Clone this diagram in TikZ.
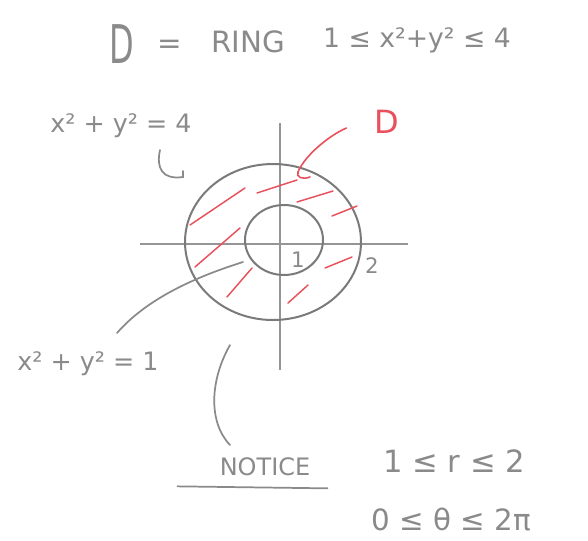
\documentclass[tikz,border=0pt]{standalone}
\usepackage{fontspec}
\setmainfont{DejaVu Sans}
\usetikzlibrary{shapes.geometric}
\definecolor{pen}{HTML}{8A8A8A}
\definecolor{ink}{HTML}{7A7A7A}
\definecolor{redpen}{HTML}{E8505C}
\tikzset{
  lbl/.style={text=pen, inner sep=0pt, font=\fontsize{#1}{#1}\selectfont},
  lbl/.default=20,
  circ/.style={ellipse, draw=ink, line width=1.5pt, inner sep=0pt},
  axis/.style={draw=ink!80, line width=1pt},
  hatch/.style={draw=redpen, line width=1.1pt, line cap=round},
  pointer/.style={draw=pen, line width=1.3pt, line cap=round},
}
\begin{document}
\begin{tikzpicture}[x=0.75pt,y=-0.75pt]
\useasboundingbox (0,0) rectangle (588,540);
% title
\node[lbl=40, xscale=0.6] (bigD) at (122,44) {D};
\node[lbl=22] (eq) at (170,47) {=};
\node[lbl=22] (ring) at (248,42) {RING};
\node[lbl=20] (ineq) at (417,40) {1 ≤ x²+y² ≤ 4};
% axes
\coordinate (xl) at (140,244);
\coordinate (xr) at (408,244);
\coordinate (yt) at (280,123);
\coordinate (yb) at (280,370);
\draw[axis] (xl) -- (xr);
\draw[axis] (yt) -- (yb);
% circles
\node[circ, minimum width=132pt, minimum height=117pt] (outer) at (273,242) {};
\node[circ, minimum width=58.5pt, minimum height=52.5pt] (inner) at (284,240) {};
% hatching
\draw[hatch] (190,225) -- (245,188);
\draw[hatch] (257,193) -- (297,180);
\draw[hatch] (297,202) -- (333,191);
\draw[hatch] (332,216) -- (357,206);
\draw[hatch] (195,267) -- (240,228);
\draw[hatch] (227,297) -- (252,268);
\draw[hatch] (288,303) -- (308,285);
\draw[hatch] (325,268) -- (352,257);
% axis labels
\node[lbl=16] (one) at (298,260) {1};
\node[lbl=16] (two) at (372,266) {2};
% red D and pointer
\node[lbl=24, text=redpen] (redD) at (387,122) {D};
\coordinate (dtip) at (298,172);
\draw[hatch, line width=1.2pt] (redD.west) ++(-28,6) coordinate (dstart)
  .. controls (330,135) and (305,155) .. (dtip)
  .. controls (296,177) and (302,180) .. (310,177);
% x^2+y^2=4 label
\node[lbl=19] (four) at (121,126) {x² + y² = 4};
\coordinate (hookA) at (160,150);
\coordinate (hookB) at (183,177);
\draw[pointer] (hookA) .. controls (156,168) and (162,180) .. (hookB) -- (183,171);
% x^2+y^2=1 label
\node[lbl=19] (oneeq) at (88,364) {x² + y² = 1};
\coordinate (p1a) at (243,262);
\coordinate (p1b) at (117,333);
\draw[pointer] (p1a) .. controls (205,274) and (150,295) .. (p1b);
% notice
\node[lbl=18] (notice) at (265,467) {NOTICE};
\coordinate (na) at (230,345);
\coordinate (nb) at (230,445);
\draw[pointer] (na) .. controls (210,380) and (208,422) .. (nb);
\draw[pointer] (notice.south west) ++(-42,10) -- ++(150,2);
\node[lbl=23] (rrange) at (454,461) {1 ≤ r ≤ 2};
\node[lbl=22] (trange) at (451,520) {0 ≤ θ ≤ 2π};
\end{tikzpicture}
\end{document}
